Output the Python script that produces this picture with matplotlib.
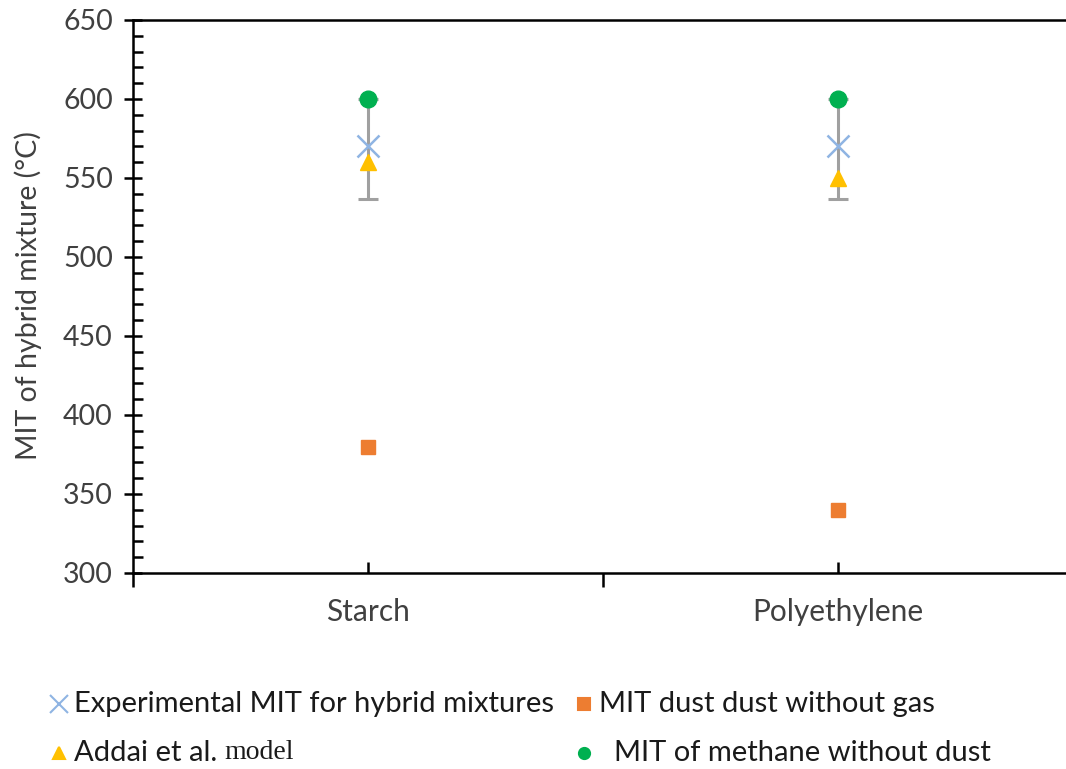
import matplotlib.pyplot as plt
import numpy as np
from matplotlib.lines import Line2D
from matplotlib.ticker import MultipleLocator, FixedLocator

plt.rcParams['font.family'] = ['Lato', 'DejaVu Sans']

dusts = ['Starch', 'Polyethylene']
mit_hybrid = [570, 570]
mit_hybrid_err_low = [33, 33]
mit_hybrid_err_up = [30, 30]
mit_dust = [380, 340]
addai_model = [560, 550]
mit_methane = [600, 600]

blue = '#8FB4E3'
orange = '#ED7D31'
yellow = '#FFC000'
green = '#00B050'
grey = '#A0A0A0'

fig = plt.figure(figsize=(10.66, 7.69), dpi=100)
ax = fig.add_axes([0.1248, 0.2549, 0.8818, 0.7191])

x = np.arange(1, len(dusts) + 1)

ax.errorbar(x, mit_hybrid, yerr=[mit_hybrid_err_low, mit_hybrid_err_up],
            fmt='none', ecolor=grey, elinewidth=2.2, capsize=7, capthick=2.2,
            zorder=2)
ax.plot(x, mit_methane, 'o', color=green, ms=12, zorder=3)
ax.plot(x, mit_hybrid, 'x', color=blue, ms=16, mew=1.8, zorder=4)
ax.plot(x, addai_model, '^', color=yellow, ms=12, zorder=5)
ax.plot(x, mit_dust, 's', color=orange, ms=10, zorder=3)

ax.set_xlim(0.5, 2.5)
ax.set_ylim(300, 650)
ax.yaxis.set_major_locator(MultipleLocator(50))
ax.yaxis.set_minor_locator(MultipleLocator(10))
ax.xaxis.set_major_locator(FixedLocator([0.5, 1.5, 2.5]))
ax.xaxis.set_minor_locator(FixedLocator(list(x)))
ax.set_xticklabels([])
for xi, name in zip(x, dusts):
    ax.text(xi, 275, name, ha='center', va='center', fontsize=21.5,
            color='#404040')

ax.tick_params(axis='y', which='major', direction='inout', length=13, width=1.8,
               labelsize=20.5, labelcolor='#404040', pad=8)
ax.tick_params(axis='y', which='minor', direction='in', length=7, width=1.8)
ax.tick_params(axis='x', which='major', direction='out', length=10, width=1.8)
ax.tick_params(axis='x', which='minor', direction='in', length=8, width=1.8)
for s in ax.spines.values():
    s.set_linewidth(1.8)

fig.text(28 / 1066, 1 - 296 / 769, 'MIT of hybrid mixture (°C)', rotation=90,
         ha='center', va='center', fontsize=20.5, color='#404040')

# legend drawn by hand (mixed fonts in one entry)
rows = [0.085, 0.021]
cols = [0.055, 0.548]
entries = [
    (cols[0], rows[0], 'x', blue, 13, 'Experimental MIT for hybrid mixtures'),
    (cols[1], rows[0], 's', orange, 8, 'MIT dust dust without gas'),
    (cols[0], rows[1], '^', yellow, 9, 'Addai et al. '),
    (cols[1], rows[1], 'o', green, 8, '  MIT of methane without dust'),
]
for lx, ly, m, c, ms, label in entries:
    fig.add_artist(Line2D([lx], [ly], marker=m, color=c, ms=ms, mew=1.5,
                          linestyle='none', transform=fig.transFigure))
    t = fig.text(lx + 0.014, ly, label, ha='left', va='center', fontsize=21,
                 color='#1a1a1a')
    if label.startswith('Addai'):
        fig.canvas.draw()
        bb = t.get_window_extent()
        fig.text(bb.x1 / fig.bbox.width, ly, 'model', ha='left', va='center',
                 fontsize=20, family='Liberation Serif', color='#1a1a1a')

fig.savefig('out.png', dpi=100)
